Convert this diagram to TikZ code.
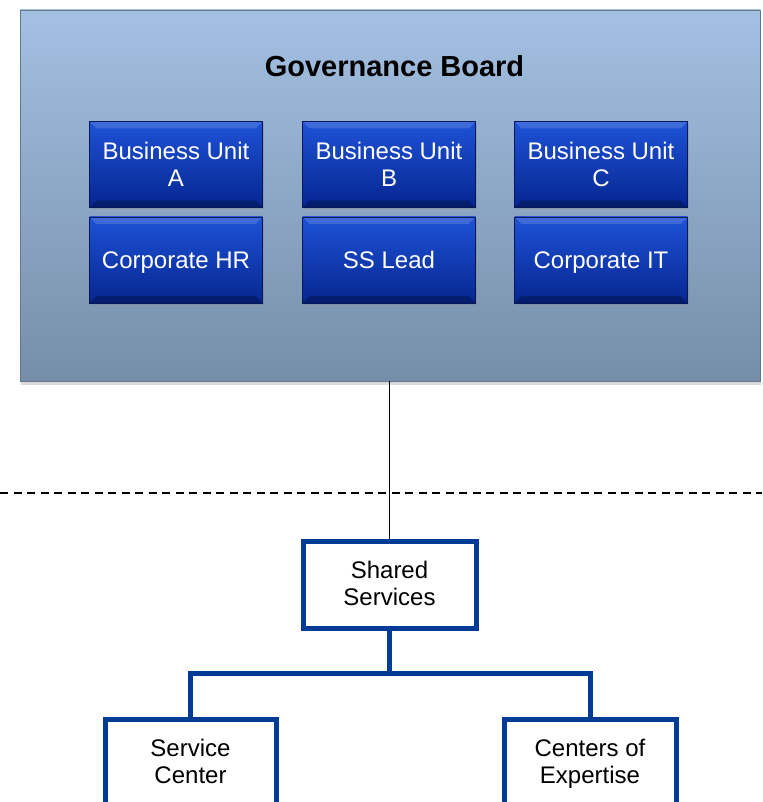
\documentclass[tikz,border=0pt]{standalone}
\usepackage{fontspec}
\setmainfont{Liberation Sans}
\usetikzlibrary{positioning, shadows, calc}
\definecolor{boardtop}{RGB}{163,192,227}
\definecolor{boardbot}{RGB}{118,142,168}
\definecolor{unittop}{RGB}{30,82,214}
\definecolor{unitbot}{RGB}{6,38,145}
\definecolor{ssblue}{RGB}{0,59,150}
\tikzstyle{board} = [rectangle, minimum width=740pt, minimum height=371pt, top color=boardtop, bottom color=boardbot, draw=boardbot!85!black, drop shadow={opacity=0.3, shadow xshift=1pt, shadow yshift=-4pt}]
\tikzstyle{unit} = [rectangle, minimum width=173pt, minimum height=86pt, align=center, text=white, top color=unittop, bottom color=unitbot, draw=unitbot!60!black, font=\fontsize{24}{26.5}\selectfont, drop shadow={opacity=0.35, shadow xshift=1pt, shadow yshift=-2pt},
  path picture={
    \fill[white,opacity=0.15] (path picture bounding box.north west) -- (path picture bounding box.north east) -- ([xshift=-7pt,yshift=-7pt]path picture bounding box.north east) -- ([xshift=7pt,yshift=-7pt]path picture bounding box.north west) -- cycle;
    \fill[black,opacity=0.25] (path picture bounding box.south west) -- (path picture bounding box.south east) -- ([xshift=-7pt,yshift=7pt]path picture bounding box.south east) -- ([xshift=7pt,yshift=7pt]path picture bounding box.south west) -- cycle;
  }]
\tikzstyle{oneline} = [text height=17pt, text depth=0pt]
\tikzstyle{ssbox} = [rectangle, minimum width=173pt, minimum height=87pt, align=center, text depth=2pt, draw=ssblue, line width=5pt, fill=white, font=\fontsize{24}{26.5}\selectfont]
\tikzstyle{tree} = [draw=ssblue, line width=5pt]

\begin{document}
\begin{tikzpicture}[x=1pt, y=-1pt, on grid]
    \useasboundingbox (0,0) rectangle (762,802);
    % governance board with its members
    \node[board](gb) at (390,195.5) {};
    \node[anchor=base, font=\bfseries\fontsize{29}{32}\selectfont](gb_title) at (394.5,76.7) {Governance Board};
    \node[unit](bu_a) at (176,164.5) {Business Unit\\A};
    \node[unit](bu_b)[right=213pt of bu_a] {Business Unit\\B};
    \node[unit](bu_c)[right=212pt of bu_b] {Business Unit\\C};
    \node[unit,oneline](corp_hr)[below=95.5pt of bu_a] {Corporate HR};
    \node[unit,oneline](ss_lead)[below=95.5pt of bu_b] {SS Lead};
    \node[unit,oneline](corp_it)[below=95.5pt of bu_c] {Corporate IT};
    % boundary
    \coordinate (cut_l) at (0,493);
    \coordinate (cut_r) at (762,493);
    \draw[line width=1.5pt, dash pattern=on 8pt off 5.5pt] (cut_l) -- (cut_r);
    % shared services tree
    \node[ssbox](ss) at (389.5,584.5) {Shared\\Services};
    \node[ssbox, minimum width=171pt](sc)[below left=178pt and 199pt of ss] {Service\\Center};
    \node[ssbox, minimum width=172pt](coe)[below right=178pt and 200.5pt of ss] {Centers of\\Expertise};
    \coordinate (fork) at (389.5,673);
    \draw[line width=1.5pt] (gb.south -| ss.north) -- (ss.north);
    \draw[tree] (ss.south) -- (fork) -| (sc.north);
    \draw[tree] (fork) -| (coe.north);
\end{tikzpicture}
\end{document}
